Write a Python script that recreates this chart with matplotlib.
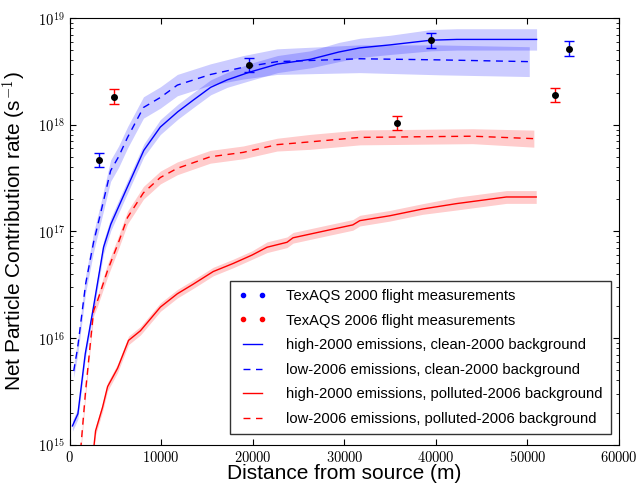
import numpy as np
import matplotlib
matplotlib.use("Agg")
import matplotlib.pyplot as plt
from matplotlib.lines import Line2D
from matplotlib.ticker import FuncFormatter, LogLocator, NullFormatter

plt.rcParams['mathtext.fontset'] = 'cm'
plt.rcParams['font.family'] = ['Liberation Sans', 'DejaVu Sans']

# high-2000 emissions, clean-2000 background
x_hc = [300, 900, 1700, 2600, 3700, 4500, 6300, 8100, 9900, 11800, 13500, 15400,
        17200, 19600, 22700, 26300, 29400, 31700, 35000, 39500, 42300, 46000, 51000]
y_hc = [1.5e15, 1.95e15, 7.1e15, 1.95e16, 7.1e16, 1.17e17, 2.6e17, 5.75e17, 9.5e17,
        1.32e18, 1.7e18, 2.24e18, 2.63e18, 3.1e18, 3.7e18, 4.1e18, 4.8e18, 5.25e18,
        5.6e18, 6.2e18, 6.3e18, 6.3e18, 6.3e18]
w_hc = [0.05, 0.05, 0.05, 0.05, 0.06, 0.06, 0.06, 0.06, 0.07, 0.07, 0.07, 0.07,
        0.07, 0.08, 0.08, 0.08, 0.09, 0.09, 0.09, 0.10, 0.10, 0.10, 0.10]

# low-2006 emissions, clean-2000 background
x_lc = [440, 870, 1740, 2610, 3380, 4470, 5340, 6320, 8060, 9910, 11760, 15350,
        18950, 22650, 31700, 40400, 50200]
y_lc = [4.9e15, 8.1e15, 3.2e16, 7.9e16, 1.48e17, 3.7e17, 5.0e17, 7.6e17, 1.45e18,
        1.8e18, 2.35e18, 2.95e18, 3.45e18, 3.9e18, 4.15e18, 4.05e18, 3.9e18]
w_lc = [0.06, 0.07, 0.08, 0.09, 0.09, 0.10, 0.10, 0.10, 0.10, 0.10, 0.10, 0.10,
        0.11, 0.12, 0.13, 0.14, 0.14]

# high-2000 emissions, polluted-2006 background
x_hp = [2610, 2830, 3590, 4140, 5230, 6430, 7730, 9910, 11760, 13500, 15680, 17860,
        19930, 21560, 23740, 24390, 28100, 30930, 31690, 34960, 38550, 42250, 45850,
        47700, 50960]
y_hp = [9e14, 1.35e15, 2.24e15, 3.5e15, 5.2e15, 9.5e15, 1.17e16, 1.95e16, 2.6e16,
        3.2e16, 4.2e16, 5.0e16, 6.0e16, 7.1e16, 7.9e16, 8.7e16, 1.02e17, 1.15e17,
        1.26e17, 1.4e17, 1.62e17, 1.82e17, 2.0e17, 2.1e17, 2.1e17]
w_hp = [0.04, 0.04, 0.04, 0.04, 0.04, 0.04, 0.04, 0.04, 0.04, 0.04, 0.04, 0.04,
        0.04, 0.05, 0.05, 0.05, 0.05, 0.05, 0.05, 0.05, 0.05, 0.06, 0.06, 0.06, 0.06]

# low-2006 emissions, polluted-2006 background
x_lp = [1200, 1740, 2610, 3050, 4140, 5340, 6320, 8060, 9910, 11760, 13500, 15350,
        18950, 22650, 26250, 31700, 44000, 50700]
y_lp = [9e14, 3.2e15, 1.8e16, 2.25e16, 4.3e16, 7.9e16, 1.35e17, 2.3e17, 3.2e17,
        3.9e17, 4.4e17, 5.0e17, 5.5e17, 6.5e17, 6.9e17, 7.6e17, 7.8e17, 7.4e17]
w_lp = [0.05, 0.05, 0.05, 0.05, 0.06, 0.06, 0.06, 0.06, 0.06, 0.06, 0.06, 0.06,
        0.06, 0.06, 0.07, 0.07, 0.07, 0.08]

# flight measurements (value, half error in dex)
x_m2000 = [3160, 19600, 39500, 54560]
y_m2000 = [4.7e17, 3.65e18, 6.2e18, 5.15e18]
e_m2000 = [0.065, 0.065, 0.07, 0.07]
x_m2006 = [4790, 35800, 53000]
y_m2006 = [1.82e18, 1.03e18, 1.9e18]
e_m2006 = [0.07, 0.065, 0.065]

fig = plt.figure(figsize=(6.38, 4.83), dpi=100)
ax = fig.add_axes([0.1092, 0.0793, 0.861, 0.8834])


def band(x, y, w, c):
    y = np.array(y)
    w = np.array(w)
    ax.fill_between(x, y * 10 ** (-w), y * 10 ** w, color=c, alpha=0.2, lw=0)


band(x_hc, y_hc, w_hc, 'blue')
band(x_lc, y_lc, w_lc, 'blue')
band(x_hp, y_hp, w_hp, 'red')
band(x_lp, y_lp, w_lp, 'red')

dash = (5, 4)
ax.plot(x_hc, y_hc, color='blue', lw=1)
ax.plot(x_lc, y_lc, color='blue', lw=1, dashes=dash)
ax.plot(x_hp, y_hp, color='red', lw=1)
ax.plot(x_lp, y_lp, color='red', lw=1, dashes=dash)


def meas(x, y, e, c):
    y = np.array(y)
    e = np.array(e)
    err = [y - y * 10 ** (-e), y * 10 ** e - y]
    ax.errorbar(x, y, yerr=err, fmt='o', color='black', ms=4, ecolor=c,
                elinewidth=1, capsize=3.5, capthick=1)


meas(x_m2000, y_m2000, e_m2000, 'blue')
meas(x_m2006, y_m2006, e_m2006, 'red')

ax.set_yscale('log')
ax.set_xlim(0, 60000)
ax.set_ylim(1e15, 1e19)
ax.set_xticks(range(0, 60001, 10000))
ax.xaxis.set_major_formatter(FuncFormatter(lambda v, p: r'$%d$' % v))
ax.yaxis.set_major_locator(LogLocator(base=10, numticks=10))
ax.yaxis.set_minor_locator(LogLocator(base=10, subs=np.arange(2, 10), numticks=10))
ax.yaxis.set_major_formatter(FuncFormatter(lambda v, p: r'$10^{%d}$' % round(np.log10(v))))
ax.yaxis.set_minor_formatter(NullFormatter())
ax.tick_params(which='both', direction='in', top=True, right=True, labelsize=10.4)
ax.tick_params(which='major', length=4, width=0.8)
ax.tick_params(which='minor', length=2, width=0.6)
ax.tick_params(axis='x', pad=4)

ax.set_xlabel('Distance from source (m)', fontsize=15, labelpad=-1)
ax.set_ylabel('Net Particle Contribution rate (s$^{-1}$)', fontsize=15, labelpad=6)

handles = [
    Line2D([], [], ls='none', marker='o', ms=3, color='blue'),
    Line2D([], [], ls='none', marker='o', ms=3, color='red'),
    Line2D([], [], color='blue', lw=1),
    Line2D([], [], color='blue', lw=1, dashes=dash),
    Line2D([], [], color='red', lw=1),
    Line2D([], [], color='red', lw=1, dashes=dash),
]
labels = ['TexAQS 2000 flight measurements',
          'TexAQS 2006 flight measurements',
          'high-2000 emissions, clean-2000 background',
          'low-2006 emissions, clean-2000 background',
          'high-2000 emissions, polluted-2006 background',
          'low-2006 emissions, polluted-2006 background']
leg = ax.legend(handles, labels, loc='lower right', bbox_to_anchor=(0.985, 0.025),
                borderaxespad=0, numpoints=2, fontsize=10.6, fancybox=False,
                labelspacing=0.72, handlelength=1.9, handletextpad=1.35,
                borderpad=0.55)
leg.get_frame().set_edgecolor('black')
leg.get_frame().set_linewidth(1)

fig.savefig('out.png', dpi=100)
